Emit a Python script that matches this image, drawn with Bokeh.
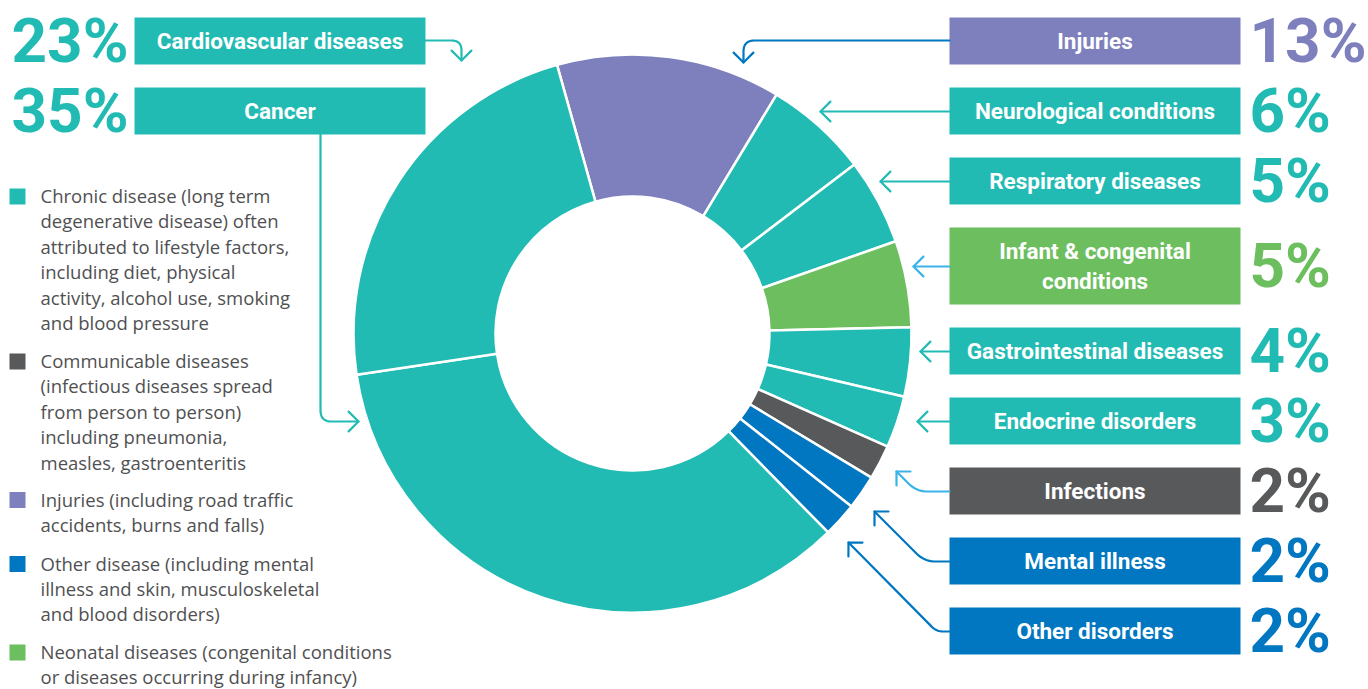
import numpy as np
from bokeh.plotting import figure
from bokeh.models import Range1d, ColumnDataSource
from bokeh.core.properties import value
from bokeh.embed import file_html
from bokeh.resources import INLINE

# ---------------- data ----------------
categories = ["Injuries", "Neurological conditions", "Respiratory diseases",
              "Infant & congenital conditions", "Gastrointestinal diseases",
              "Endocrine disorders", "Infections", "Mental illness",
              "Other disorders", "Cancer", "Cardiovascular diseases"]
values = [13, 6, 5, 5, 4, 3, 2, 2, 2, 35, 23]
group = ["injury", "chronic", "chronic", "neonatal", "chronic", "chronic",
         "communicable", "other", "other", "chronic", "chronic"]
box_lines = [["Injuries"], ["Neurological conditions"], ["Respiratory diseases"],
             ["Infant & congenital", "conditions"], ["Gastrointestinal diseases"],
             ["Endocrine disorders"], ["Infections"], ["Mental illness"],
             ["Other disorders"], ["Cancer"], ["Cardiovascular diseases"]]
legend_groups = ["chronic", "communicable", "injury", "other", "neonatal"]
legend_texts = [
    ["Chronic disease (long term", "degenerative disease) often",
     "attributed to lifestyle factors,", "including diet, physical",
     "activity, alcohol use, smoking", "and blood pressure"],
    ["Communicable diseases", "(infectious diseases spread",
     "from person to person)", "including pneumonia,", "measles, gastroenteritis"],
    ["Injuries (including road traffic", "accidents, burns and falls)"],
    ["Other disease (including mental", "illness and skin, musculoskeletal",
     "and blood disorders)"],
    ["Neonatal diseases (congenital conditions", "or diseases occurring during infancy)"],
]

# ---------------- styles ----------------
COL = {"chronic": "#22bbb3", "communicable": "#58595b", "injury": "#7e80be",
       "other": "#0077c0", "neonatal": "#6cbe5e"}
ARROW_COL = {"Injuries": "#0077c0", "Infant & congenital conditions": "#3ab4e6",
             "Infections": "#3ab4e6", "Mental illness": "#0077c0",
             "Other disorders": "#0077c0"}
TEXT_GREY = "#505052"
BOLD = "Roboto"
BOX_FS, PCT_FS, LEG_FS = 22.5, 62, 18.5
# baseline correction observed for the svg renderer (fraction of font size)
ROB_SHIFT, OS_SHIFT = 0.355, 0.43

W, H = 1368, 689
def X(px): return px
def Y(py): return H - py

p = figure(width=W, height=H, output_backend="svg", toolbar_location=None,
           x_range=Range1d(0, W), y_range=Range1d(0, H), min_border=0)
p.axis.visible = False
p.grid.visible = False
p.outline_line_color = None
p.background_fill_color = "white"

# ---------------- donut ----------------
CX, CY, R_OUT, R_IN = 632, 333, 279, 137
START = -15.7  # degrees clockwise from 12 o'clock where first slice begins
vals = np.array(values, dtype=float)
cum = np.concatenate([[0], np.cumsum(vals)[:-1]])
t0 = START + cum / vals.sum() * 360.0
t1 = t0 + vals / vals.sum() * 360.0
src = ColumnDataSource(dict(
    x=[X(CX)] * len(values), y=[Y(CY)] * len(values),
    start=np.radians(90 - t1), end=np.radians(90 - t0),
    color=[COL[g] for g in group], cat=categories))
p.annular_wedge(x="x", y="y", inner_radius=R_IN, outer_radius=R_OUT,
                start_angle="start", end_angle="end", fill_color="color",
                line_color="white", line_width=2.5, source=src)

# ---------------- label boxes ----------------
box_layout = {  # category: (left, right, top, bottom) in px
    "Cardiovascular diseases": (134, 425, 17, 64),
    "Cancer": (134, 425, 87, 134),
    "Injuries": (949, 1240, 17, 64),
    "Neurological conditions": (949, 1240, 87, 134),
    "Respiratory diseases": (949, 1240, 157, 204),
    "Infant & congenital conditions": (949, 1240, 227, 304),
    "Gastrointestinal diseases": (949, 1240, 327, 374),
    "Endocrine disorders": (949, 1240, 397, 444),
    "Infections": (949, 1240, 467, 514),
    "Mental illness": (949, 1240, 537, 584),
    "Other disorders": (949, 1240, 607, 654),
}
for cat, v, g, lines in zip(categories, values, group, box_lines):
    l, r, t, b = box_layout[cat]
    c = COL[g]
    p.quad(left=X(l), right=X(r), top=Y(t), bottom=Y(b), fill_color=c, line_color=None)
    mid = (t + b) / 2
    n = len(lines)
    for i, ln in enumerate(lines):
        base = mid + 8 + (i - (n - 1) / 2) * 30 - ROB_SHIFT * BOX_FS
        p.text(x=[X((l + r) / 2)], y=[Y(base)], text=[ln], text_color="white",
               text_font=value(BOLD), text_font_style="bold",
               text_font_size=f"{BOX_FS}px",
               text_align="center", text_baseline="alphabetic")
    pct = f"{v}%"
    if l < 500:
        px_, align = 128, "right"
    else:
        px_, align = 1249, "left"
    p.text(x=[X(px_)], y=[Y(mid + 21.5 - ROB_SHIFT * PCT_FS)], text=[pct], text_color=c,
           text_font=value(BOLD), text_font_style="bold", text_font_size=f"{PCT_FS}px",
           text_align=align, text_baseline="alphabetic")

# ---------------- connectors ----------------
def rounded(pts, r, n=10):
    pts = [np.array(q, dtype=float) for q in pts]
    out = [pts[0]]
    for i in range(1, len(pts) - 1):
        a, v, c = pts[i - 1], pts[i], pts[i + 1]
        d1 = (v - a) / np.linalg.norm(v - a)
        d2 = (c - v) / np.linalg.norm(c - v)
        rr = min(r, np.linalg.norm(v - a) / 2, np.linalg.norm(c - v) / 2)
        pin, pout = v - d1 * rr, v + d2 * rr
        for s in np.linspace(0, 1, n):
            out.append((1 - s) ** 2 * pin + 2 * (1 - s) * s * v + s ** 2 * pout)
    out.append(pts[-1])
    return out

connectors = {  # category: polyline in px ending at arrow tip
    "Cardiovascular diseases": [(425, 40), (461, 40), (461, 60)],
    "Cancer": [(320, 134), (320, 421), (358, 421)],
    "Injuries": [(949, 40), (743, 40), (743, 62)],
    "Neurological conditions": [(949, 111), (820, 111)],
    "Respiratory diseases": [(949, 181), (880, 181)],
    "Infant & congenital conditions": [(949, 266), (913, 266)],
    "Gastrointestinal diseases": [(949, 351), (920, 351)],
    "Endocrine disorders": [(949, 421), (917, 421)],
    "Infections": [(949, 491), (916, 491), (896, 471)],
    "Mental illness": [(949, 561), (924, 561), (874, 511)],
    "Other disorders": [(949, 631), (936, 631), (848, 542)],
}
for cat, g in zip(categories, group):
    pts = connectors[cat]
    col = ARROW_COL.get(cat, COL["chronic"])
    path = rounded(pts, 11)
    p.line(x=[X(q[0]) for q in path], y=[Y(q[1]) for q in path],
           line_color=col, line_width=2.2, line_cap="round", line_join="round")
    tip = np.array(pts[-1], float)
    prev = np.array(pts[-2], float)
    d = (tip - prev) / np.linalg.norm(tip - prev)
    back = -d
    arms = []
    for ang in (np.radians(45), np.radians(-45)):
        rot = np.array([back[0] * np.cos(ang) - back[1] * np.sin(ang),
                        back[0] * np.sin(ang) + back[1] * np.cos(ang)])
        arms.append(tip + rot * 14)
    p.line(x=[X(arms[0][0]), X(tip[0]), X(arms[1][0])],
           y=[Y(arms[0][1]), Y(tip[1]), Y(arms[1][1])],
           line_color=col, line_width=2.2, line_cap="round", line_join="round")

# ---------------- legend ----------------
first_baselines = [203, 368, 506.5, 570.5, 659]
for g, lines, b0 in zip(legend_groups, legend_texts, first_baselines):
    p.quad(left=X(9), right=X(25), top=Y(b0 - 15), bottom=Y(b0 + 1),
           fill_color=COL[g], line_color=None)
    for i, ln in enumerate(lines):
        p.text(x=[X(40)], y=[Y(b0 + i * 25.4 - OS_SHIFT * LEG_FS)], text=[ln],
               text_color=TEXT_GREY, text_font=value("Open Sans"),
               text_font_size=f"{LEG_FS}px",
               text_align="left", text_baseline="alphabetic")

open("out.html", "w").write(file_html(p, INLINE))
